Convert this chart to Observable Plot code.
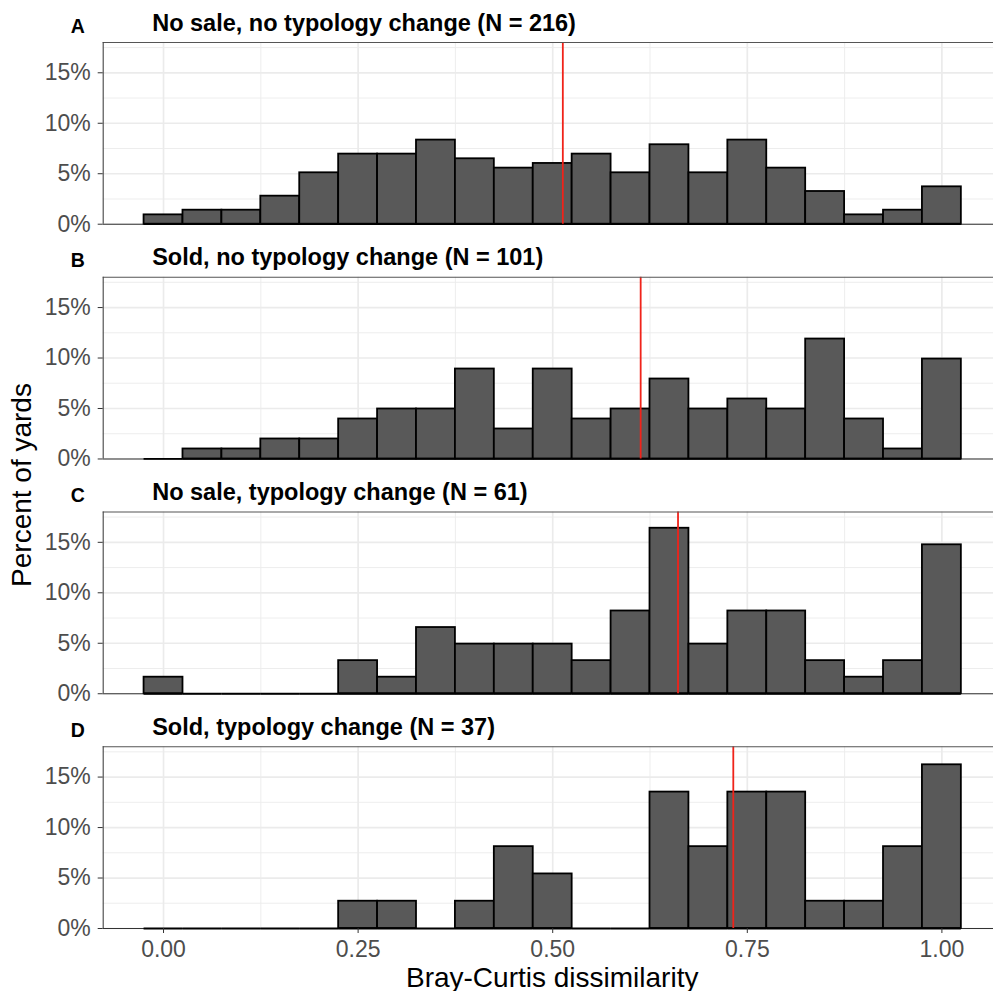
<!DOCTYPE html>
<html>
<head>
<meta charset="utf-8">
<script src="https://cdn.jsdelivr.net/npm/d3@7"></script>
<script src="https://cdn.jsdelivr.net/npm/@observablehq/plot@0.6"></script>
<style>
  html, body { margin: 0; padding: 0; background: #fff; overflow: hidden; }
  #chart svg { display: block; }
</style>
</head>
<body>
<div id="chart"></div>
<script>
// Histogram bins of Bray-Curtis dissimilarity (bin width 0.05, centred on multiples of 0.05)
const binCenters = [0.00, 0.05, 0.10, 0.15, 0.20, 0.25, 0.30, 0.35, 0.40, 0.45, 0.50,
                    0.55, 0.60, 0.65, 0.70, 0.75, 0.80, 0.85, 0.90, 0.95, 1.00];
const binWidth = 0.05;

// Yard counts per bin for each group
const countsNoSaleNoChange = [2, 3, 3, 6, 11, 15, 15, 18, 14, 12, 13, 15, 11, 17, 11, 18, 12, 7, 2, 3, 8];
const countsSoldNoChange   = [0, 1, 1, 2, 2, 4, 5, 5, 9, 3, 9, 4, 5, 8, 5, 6, 5, 12, 4, 1, 10];
const countsNoSaleChange   = [1, 0, 0, 0, 0, 2, 1, 4, 3, 3, 3, 2, 5, 10, 3, 5, 5, 2, 1, 2, 9];
const countsSoldChange     = [0, 0, 0, 0, 0, 1, 1, 0, 1, 3, 2, 0, 0, 5, 3, 5, 5, 1, 1, 3, 6];

const panelLetters = ["A", "B", "C", "D"];
const groupNames = ["No sale, no typology change", "Sold, no typology change",
                    "No sale, typology change", "Sold, typology change"];
const sampleSizes = [216, 101, 61, 37];
const groupCentres = [0.513, 0.613, 0.661, 0.732]; // red reference line per group

const xTicks = [0, 0.25, 0.5, 0.75, 1];
const xMinorTicks = [0.125, 0.375, 0.625, 0.875];
const yTicks = [0, 5, 10, 15];
const yMinorTicks = [2.5, 7.5, 12.5, 17.5];

const xTitle = "Bray-Curtis dissimilarity";
const yTitle = "Percent of yards";

const allCounts = [countsNoSaleNoChange, countsSoldNoChange, countsNoSaleChange, countsSoldChange];

// Long table of bins: one row per group and bin, as a percentage of that group's yards
const bins = [];
panelLetters.forEach((letter, i) => {
  binCenters.forEach((c, j) => {
    bins.push({
      panel: letter,
      x1: c - binWidth / 2,
      x2: c + binWidth / 2,
      pct: allCounts[i][j] / sampleSizes[i] * 100
    });
  });
});

const panels = panelLetters.map((letter, i) => ({
  panel: letter,
  title: `${groupNames[i]} (N = ${sampleSizes[i]})`,
  centre: groupCentres[i]
}));

const xDomain = [-0.0775, 1.0663];
const yDomain = [0, 18];

const chart = Plot.plot({
  width: 993,
  height: 991,
  marginLeft: 102.7,
  marginRight: 0,
  marginTop: 42,
  marginBottom: 63,
  style: { fontFamily: "'Liberation Sans', Arial, Helvetica, sans-serif", background: "#fff", overflow: "visible" },
  x: { domain: xDomain },
  y: { domain: yDomain },
  fy: { domain: panelLetters, paddingInner: 0.226, paddingOuter: 0, round: false, axis: null, label: null },
  marks: [
    // panel grid
    Plot.gridX(xMinorTicks, { stroke: "#ebebeb", strokeOpacity: 1, strokeWidth: 0.9 }),
    Plot.gridY(yMinorTicks, { stroke: "#ebebeb", strokeOpacity: 1, strokeWidth: 0.9 }),
    Plot.gridX(xTicks, { stroke: "#ebebeb", strokeOpacity: 1, strokeWidth: 1.7 }),
    Plot.gridY(yTicks, { stroke: "#ebebeb", strokeOpacity: 1, strokeWidth: 1.7 }),
    // bottom border of each panel
    Plot.ruleY([0], { stroke: "#333", strokeWidth: 1.1 }),
    // histogram bars
    Plot.rect(bins, {
      x1: "x1", x2: "x2", y1: 0, y2: "pct", fy: "panel",
      fill: "#595959", stroke: "black", strokeWidth: 1.8
    }),
    // outline of empty bins along the baseline
    Plot.ruleY(bins, { x1: "x1", x2: "x2", y: 0, fy: "panel", stroke: "black", strokeWidth: 1.8 }),
    // group reference line
    Plot.ruleX(panels, { x: "centre", fy: "panel", stroke: "#f0231a", strokeWidth: 1.8 }),
    // top and left borders
    Plot.ruleY([yDomain[1]], { stroke: "#555", strokeWidth: 1.1 }),
    Plot.ruleX([xDomain[0]], { stroke: "#444", strokeWidth: 1.1 }),
    // axes
    Plot.axisY({
      ticks: yTicks, tickFormat: d => d + "%", tickSize: 5, tickPadding: 7.5,
      fontSize: 23, fill: "#4d4d4d", stroke: "#333", label: null
    }),
    Plot.axisX({
      ticks: xTicks, tickFormat: d3.format(".2f"), facetAnchor: "bottom",
      tickSize: 5, tickPadding: 7, fontSize: 23, fill: "#4d4d4d", stroke: "#333", label: null
    }),
    // panel titles and letters
    Plot.text(panels, {
      fy: "panel", text: "title", frameAnchor: "top-left", dx: 49, dy: -12,
      lineAnchor: "bottom", textAnchor: "start", fontSize: 23.5, fontWeight: "bold", fill: "black"
    }),
    Plot.text(panels, {
      fy: "panel", text: "panel", frameAnchor: "top-left", dx: -32.5, dy: -10,
      lineAnchor: "bottom", textAnchor: "start", fontSize: 19.5, fontWeight: "bold", fill: "black"
    })
  ]
});

// Shared axis titles across the stacked panels
const svg = d3.select(chart);
const xs = chart.scale("x");
svg.append("text")
  .attr("x", xs.apply(0.5))
  .attr("y", 986.5)
  .attr("text-anchor", "middle")
  .attr("font-size", 28)
  .attr("fill", "black")
  .text(xTitle);
svg.append("text")
  .attr("transform", `translate(31,${(42 + 928) / 2}) rotate(-90)`)
  .attr("text-anchor", "middle")
  .attr("font-size", 28)
  .attr("fill", "black")
  .text(yTitle);

document.getElementById("chart").append(chart);
</script>
</body>
</html>
